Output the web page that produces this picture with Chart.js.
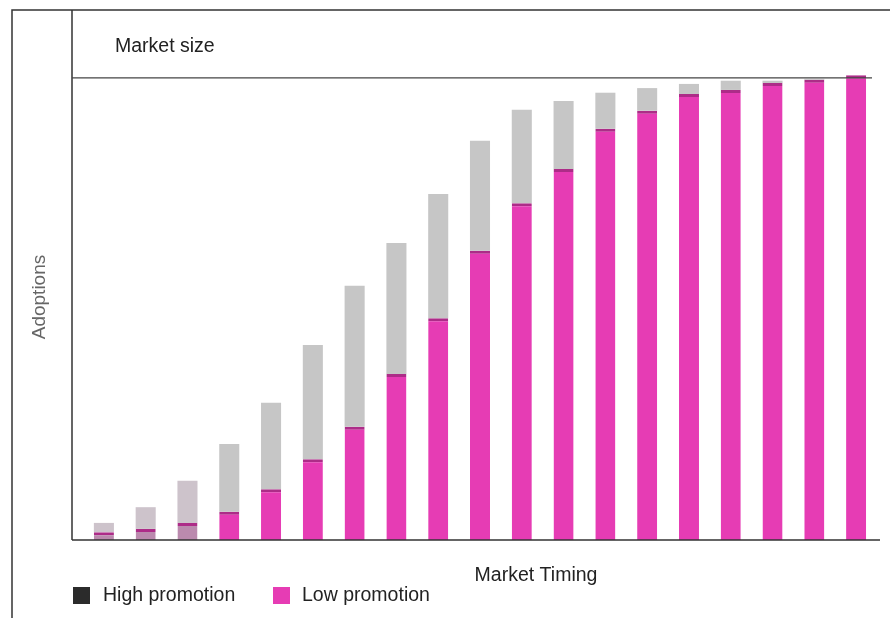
<!DOCTYPE html>
<html>
<head>
<meta charset="utf-8">
<script src="https://cdn.jsdelivr.net/npm/chart.js@4/dist/chart.umd.min.js"></script>
<style>
  html, body { margin: 0; padding: 0; background: #fff; }
  #wrap { width: 890px; height: 618px; }
</style>
</head>
<body>
<div id="wrap"><canvas id="adoptChart" width="890" height="618"></canvas></div>
<script>
// Periods along the market timing axis
const periods = ['1', '2', '3', '4', '5', '6', '7', '8', '9', '10',
                 '11', '12', '13', '14', '15', '16', '17', '18', '19'];

// Cumulative adoptions, as % of market size
const highPromotion = [3.7, 7.1, 12.8, 20.8, 29.7, 42.2, 55.0, 64.3, 74.9, 86.4,
                       93.1, 95.0, 96.8, 97.8, 98.7, 99.4, 99.4, 99.8, 100.6];
const lowPromotion  = [1.7, 2.4, 3.7, 6.1, 11.0, 17.5, 24.5, 35.9, 48.0, 62.6,
                       72.9, 80.3, 89.0, 92.9, 96.5, 97.4, 98.9, 99.6, 100.6];
const marketSize = 100;

// Gap between the two curves stacked on top of the low promotion bar
const extraHigh = highPromotion.map((v, i) => Math.max(0, v - lowPromotion[i]));

const PINK = '#e63cb4';
const GRAY = '#c6c6c6';
const pinkColors = periods.map((p, i) => i < 3 ? '#bb8aae' : PINK);
const grayColors = periods.map((p, i) => i < 3 ? '#cdc3cb' : GRAY);

const FONT = '"Liberation Sans", Arial, sans-serif';

// Frame, market size line and labels
const framePlugin = {
    id: 'frame',
    afterDraw(chart) {
        const ctx = chart.ctx;
        const y = chart.scales.y;
        const base = y.getPixelForValue(0);
        const sizeY = y.getPixelForValue(marketSize);
        ctx.save();
        ctx.strokeStyle = '#333';
        ctx.lineWidth = 1.5;
        ctx.beginPath();
        // outer frame
        ctx.moveTo(12, 618); ctx.lineTo(12, 10); ctx.lineTo(890, 10);
        // y axis
        ctx.moveTo(72, 10); ctx.lineTo(72, base);
        // baseline
        ctx.moveTo(72, base); ctx.lineTo(880, base);
        ctx.stroke();

        ctx.strokeStyle = '#444';
        ctx.lineWidth = 1.2;
        ctx.beginPath();
        ctx.moveTo(72, sizeY); ctx.lineTo(872, sizeY);
        ctx.stroke();

        ctx.fillStyle = '#222';
        ctx.font = '19.5px ' + FONT;
        ctx.textBaseline = 'middle';
        ctx.textAlign = 'left';
        ctx.fillText('Market size', 115, 47);

        ctx.textAlign = 'center';
        ctx.fillText('Market Timing', 536, 576);

        ctx.save();
        ctx.translate(40, 297);
        ctx.rotate(-Math.PI / 2);
        ctx.fillStyle = '#666';
        ctx.font = '19px ' + FONT;
        ctx.fillText('Adoptions', 0, 0);
        ctx.restore();

        // legend
        ctx.textAlign = 'left';
        ctx.font = '19.5px ' + FONT;
        ctx.fillStyle = '#2b2b2b';
        ctx.fillRect(73, 587, 17, 17);
        ctx.fillStyle = '#222';
        ctx.fillText('High promotion', 103, 596);
        ctx.fillStyle = PINK;
        ctx.fillRect(273, 587, 17, 17);
        ctx.fillStyle = '#222';
        ctx.fillText('Low promotion', 302, 596);
        ctx.restore();
    }
};

new Chart(document.getElementById('adoptChart'), {
    type: 'bar',
    data: {
        labels: periods,
        datasets: [{
            label: 'Low promotion',
            data: lowPromotion,
            backgroundColor: pinkColors,
            borderColor: '#ad2c88',
            borderWidth: { top: 3, left: 0, right: 0, bottom: 0 },
            borderSkipped: false,
            barPercentage: 0.48,
            categoryPercentage: 1
        }, {
            label: 'High promotion',
            data: extraHigh,
            backgroundColor: grayColors,
            borderWidth: 0,
            barPercentage: 0.48,
            categoryPercentage: 1
        }]
    },
    options: {
        responsive: false,
        animation: false,
        layout: { padding: { left: 83, right: 13, top: 10, bottom: 78 } },
        scales: {
            x: {
                stacked: true,
                display: false,
                offset: true
            },
            y: {
                stacked: true,
                display: false,
                min: 0,
                max: 114.7
            }
        },
        plugins: {
            legend: { display: false },
            tooltip: { enabled: false }
        }
    },
    plugins: [framePlugin]
});
</script>
</body>
</html>
